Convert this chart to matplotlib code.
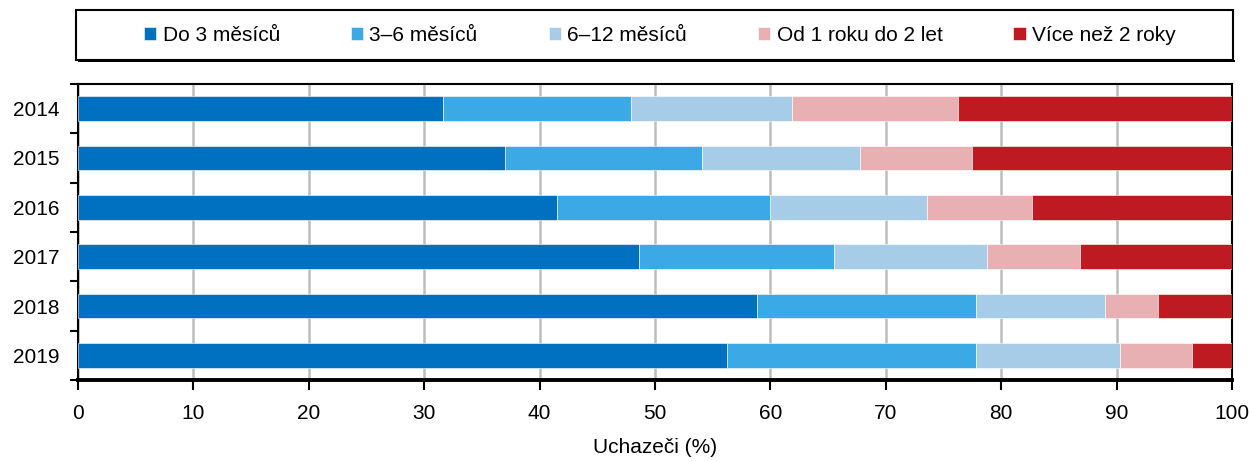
import matplotlib.pyplot as plt
from matplotlib.patches import Rectangle
from matplotlib.ticker import FixedLocator
import numpy as np

plt.rcParams['font.family'] = ['Liberation Sans', 'DejaVu Sans']

# data (podil uchazecu podle delky evidence, %)
roky = ['2014', '2015', '2016', '2017', '2018', '2019']
kategorie = ['Do 3 měsíců', '3–6 měsíců', '6–12 měsíců', 'Od 1 roku do 2 let', 'Více než 2 roky']
do3 = [31.6, 37.0, 41.5, 48.6, 58.8, 56.2]
m3_6 = [16.3, 17.1, 18.5, 16.9, 19.0, 21.6]
m6_12 = [14.0, 13.7, 13.6, 13.3, 11.2, 12.5]
r1_2 = [14.4, 9.7, 9.1, 8.0, 4.6, 6.2]
nad2 = [23.7, 22.5, 17.3, 13.2, 6.4, 3.5]
barvy = ['#0070c0', '#3aa9e6', '#a6cce8', '#e8b0b3', '#be1a21']

fig = plt.figure(figsize=(12.52, 4.61), dpi=100)
ax = fig.add_axes([0.0623, 0.1757, 0.9217, 0.6421])

y = np.arange(len(roky))
left = np.zeros(len(roky))
for serie, nazev, c in zip([do3, m3_6, m6_12, r1_2, nad2], kategorie, barvy):
    ax.barh(y, serie, left=left, height=0.5, color=c, label=nazev,
            edgecolor='white', linewidth=0.4, zorder=3)
    left += np.array(serie)

ax.set_xlim(0, 100)
ax.set_ylim(len(roky) - 0.5, -0.5)
ax.set_yticks(y)
ax.set_yticklabels(roky, fontsize=15)
ax.yaxis.set_minor_locator(FixedLocator(np.arange(-0.5, len(roky), 1)))
ax.tick_params(axis='y', which='major', length=0, pad=13)
ax.tick_params(axis='y', which='minor', length=6, width=1.5, direction='out')
ax.set_xticks(np.arange(0, 101, 10))
ax.tick_params(axis='x', labelsize=15, length=7, width=1.5, pad=10)
ax.grid(axis='x', color='#bdbdbd', linewidth=1.8, zorder=0)
ax.set_axisbelow(True)
for s in ax.spines.values():
    s.set_linewidth(1.5)
    s.set_color('black')
ax.spines['bottom'].set_linewidth(2.8)

ax.set_xlabel('Uchazeči (%)', fontsize=15, labelpad=11)

# ramecek legendy
fig.patches.append(Rectangle((0.0607, 0.870), 0.924, 0.108, transform=fig.transFigure,
                             facecolor='white', edgecolor='black', linewidth=1.5))
fig.patches.append(Rectangle((0.0607 + 0.0015, 0.870 - 0.004), 0.924, 0.004, transform=fig.transFigure,
                             facecolor='black', edgecolor='none'))
h, l = ax.get_legend_handles_labels()
fig.legend(h, l, loc='center', bbox_to_anchor=(0.527, 0.924), ncol=5, frameon=False,
           fontsize=15, handlelength=0.6, handleheight=0.6, handletextpad=0.3,
           columnspacing=3.4)

fig.savefig('out.png', dpi=100)
